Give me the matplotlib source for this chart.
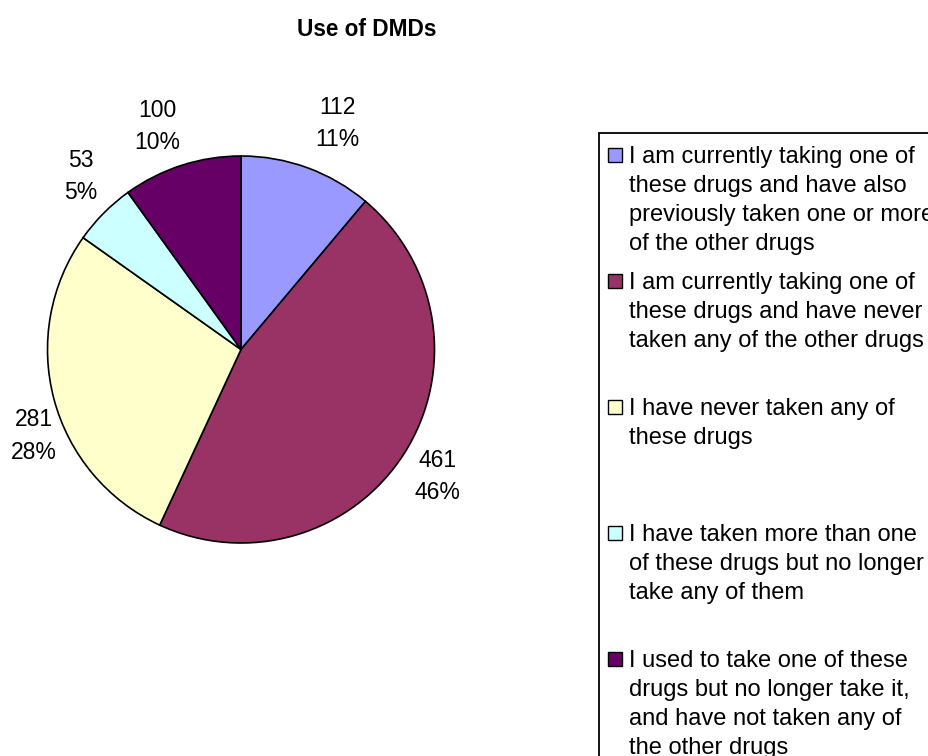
import matplotlib
matplotlib.use("Agg")
import matplotlib.pyplot as plt
from matplotlib.patches import Rectangle
import numpy as np

plt.rcParams['font.family'] = ['Liberation Sans', 'DejaVu Sans']

title = "Use of DMDs"
categories = [
    "I am currently taking one of\nthese drugs and have also\npreviously taken one or more\nof the other drugs",
    "I am currently taking one of\nthese drugs and have never\ntaken any of the other drugs",
    "I have never taken any of\nthese drugs",
    "I have taken more than one\nof these drugs but no longer\ntake any of them",
    "I used to take one of these\ndrugs but no longer take it,\nand have not taken any of\nthe other drugs",
]
counts = [112, 461, 281, 53, 100]
colors = ['#9999FF', '#993366', '#FFFFCC', '#CCFFFF', '#660066']

# label placement: distance from centre (in radii) and angular nudge (deg)
label_dist = [1.27, 1.21, 1.16, 1.22, 1.23]
label_nudge = [-3.0, -0.4, 7.8, -2.4, 2.7]

W, H = 929, 756
fig = plt.figure(figsize=(W / 100, H / 100), dpi=100)
ax = fig.add_axes([0, 0, 1, 1])

cx, cy, r = 241.0, H - 349.5, 193.5
wedges, _ = ax.pie(counts, colors=colors, startangle=90, counterclock=False,
                   center=(cx, cy), radius=r,
                   wedgeprops=dict(edgecolor='black', linewidth=1.2))
ax.set_xlim(0, W)
ax.set_ylim(0, H)
ax.set_aspect('equal')
ax.axis('off')

total = sum(counts)
for w, v, d, n in zip(wedges, counts, label_dist, label_nudge):
    mid = np.deg2rad((w.theta1 + w.theta2) / 2 + n)
    x = cx + r * d * np.cos(mid)
    y = cy + r * d * np.sin(mid)
    ax.text(x, y, f"{v}\n{round(100 * v / total)}%", ha='center', va='center',
            fontsize=16.5, linespacing=1.53)

ax.text(367, H - 29.5, title, ha='center', va='center', fontsize=16.3,
        fontweight='bold')

# legend frame, running off the right and bottom edges
ax.add_patch(Rectangle((599, -20), 500, H - 133 + 20, fill=False,
                       edgecolor='black', linewidth=1.3, clip_on=False))
step = 126
for i, (lab, col) in enumerate(zip(categories, colors)):
    top = 148 + i * step
    ax.add_patch(Rectangle((608, H - top - 14), 14, 14, facecolor=col,
                           edgecolor='black', linewidth=1.0))
    ax.text(629, H - top + 2, lab, ha='left', va='top', fontsize=17,
            linespacing=1.41)

fig.savefig("out.png", dpi=100)
